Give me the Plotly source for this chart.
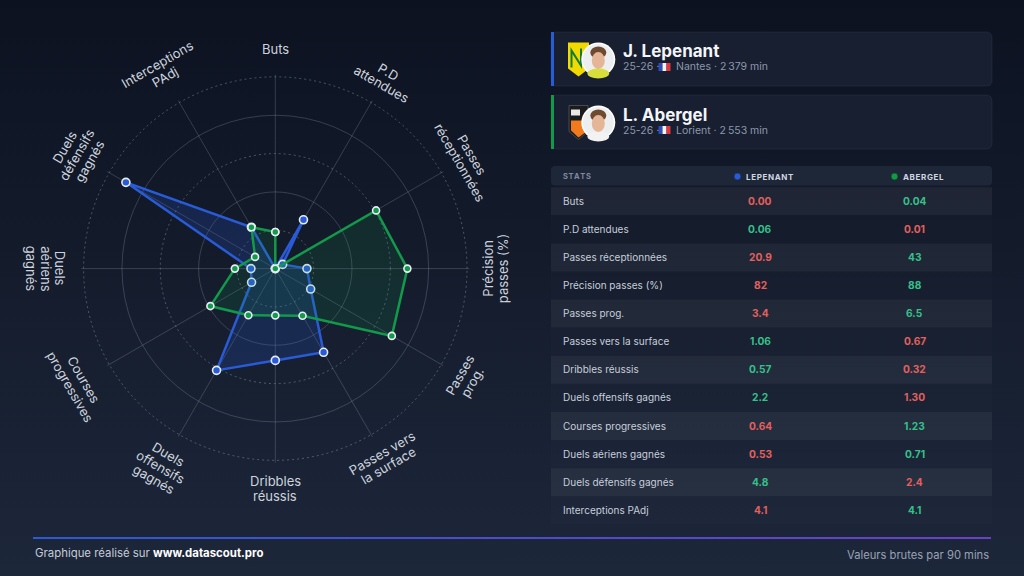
import base64
import math
import plotly.graph_objects as go

# ---------------- data ----------------
metrics = ["Buts", "P.D attendues", "Passes réceptionnées", "Précision passes (%)",
           "Passes prog.", "Passes vers la surface", "Dribbles réussis",
           "Duels offensifs gagnés", "Courses progressives", "Duels aériens gagnés",
           "Duels défensifs gagnés", "Interceptions PAdj"]
axis_labels = [["Buts"], ["P.D", "attendues"], ["Passes", "réceptionnées"],
               ["Précision", "passes (%)"], ["Passes", "prog."], ["Passes vers", "la surface"],
               ["Dribbles", "réussis"], ["Duels", "offensifs", "gagnés"],
               ["Courses", "progressives"], ["Duels", "aériens", "gagnés"],
               ["Duels", "défensifs", "gagnés"], ["Interceptions", "PAdj"]]
# normalised radar values (0-1)
lepenant_radar = [0.0, 0.294, 0.044, 0.165, 0.213, 0.504, 0.479, 0.613, 0.143, 0.127, 0.90, 0.249]
abergel_radar = [0.191, 0.0, 0.607, 0.689, 0.702, 0.284, 0.244, 0.281, 0.391, 0.211, 0.122, 0.249]
# raw values per 90 (table)
lepenant_values = ["0.00", "0.06", "20.9", "82", "3.4", "1.06", "0.57", "2.2", "0.64", "0.53", "4.8", "4.1"]
abergel_values = ["0.04", "0.01", "43", "88", "6.5", "0.67", "0.32", "1.30", "1.23", "0.71", "2.4", "4.1"]
player_names = ["J. Lepenant", "L. Abergel"]
player_short = ["LEPENANT", "ABERGEL"]
player_season = ["25-26", "25-26"]
player_club = ["Nantes", "Lorient"]
player_minutes = ["2\u202f379", "2\u202f553"]
ring_dotted = [0.2, 0.6, 1.0]
ring_solid = [0.4, 0.8]

# ---------------- style ----------------
W, H = 1024, 576
BLUE = "#2a5bd7"
GREEN = "#12994a"
RED_TXT = "#e3605e"
GREEN_TXT = "#36c08a"
FONT = "Inter"
CX, CY, R = 275.3, 268.6, 191.7
RMAX = 1.012          # a little headroom so the outer ring is kept as a grid line
RDOM = R * RMAX


def X(p):
    return p / W


def Y(p):
    return 1 - p / H


def rrect(x0, y0, x1, y1, r):
    return (f"M{X(x0 + r)},{Y(y0)} L{X(x1 - r)},{Y(y0)} Q{X(x1)},{Y(y0)} {X(x1)},{Y(y0 + r)} "
            f"L{X(x1)},{Y(y1 - r)} Q{X(x1)},{Y(y1)} {X(x1 - r)},{Y(y1)} "
            f"L{X(x0 + r)},{Y(y1)} Q{X(x0)},{Y(y1)} {X(x0)},{Y(y1 - r)} "
            f"L{X(x0)},{Y(y0 + r)} Q{X(x0)},{Y(y0)} {X(x0 + r)},{Y(y0)} Z")


def poly(pts):
    return "M" + " L".join(f"{X(a)},{Y(b)}" for a, b in pts) + " Z"


shapes = []
annotations = []


def rect_shape(x0, y0, x1, y1, fill, r=0, line=None):
    if r:
        shapes.append(dict(type="path", xref="paper", yref="paper", path=rrect(x0, y0, x1, y1, r),
                           fillcolor=fill, line=line or dict(width=0), layer="below"))
    else:
        shapes.append(dict(type="rect", xref="paper", yref="paper", x0=X(x0), x1=X(x1), y0=Y(y1), y1=Y(y0),
                           fillcolor=fill, line=line or dict(width=0), layer="below"))


def circle(cx, cy, rx, ry, fill, line=None, layer="above"):
    shapes.append(dict(type="circle", xref="paper", yref="paper", x0=X(cx - rx), x1=X(cx + rx),
                       y0=Y(cy + ry), y1=Y(cy - ry), fillcolor=fill, line=line or dict(width=0), layer=layer))


def text(x, y, s, size, color, xanchor="left", angle=0, bold=False):
    annotations.append(dict(x=X(x), y=Y(y), xref="paper", yref="paper", text=(f"<b>{s}</b>" if bold else s),
                            showarrow=False, xanchor=xanchor, yanchor="middle", textangle=angle,
                            font=dict(family=FONT, size=size, color=color)))


# background gradient + footer gradient line
svg = (f"<svg xmlns='http://www.w3.org/2000/svg' width='{W}' height='{H}' viewBox='0 0 {W} {H}' preserveAspectRatio='none'>"
       "<defs><linearGradient id='g' x1='0' y1='0' x2='0' y2='1'>"
       "<stop offset='0' stop-color='#0c1220'/><stop offset='1' stop-color='#1d273a'/></linearGradient>"
       "<linearGradient id='l' x1='0' y1='0' x2='1' y2='0'>"
       "<stop offset='0' stop-color='#2c5ad2'/><stop offset='1' stop-color='#6c3fc6'/></linearGradient></defs>"
       f"<rect width='{W}' height='{H}' fill='url(#g)'/>"
       "<rect x='33' y='537' width='958' height='2' fill='url(#l)'/></svg>")
bg_src = "data:image/svg+xml;base64," + base64.b64encode(svg.encode()).decode()

# ---------------- radar ----------------
fig = go.Figure()
fig.add_trace(go.Scatterpolar(r=[0], theta=[0], mode="markers", marker=dict(opacity=0),
                              subplot="polar", hoverinfo="skip", showlegend=False))

theta_closed = metrics + [metrics[0]]
for vals, color, fillc, size in [(lepenant_radar, BLUE, "rgba(42,91,215,0.20)", 8),
                                 (abergel_radar, GREEN, "rgba(18,153,74,0.15)", 7)]:
    fig.add_trace(go.Scatterpolar(
        r=vals + [vals[0]], theta=theta_closed, subplot="polar2", mode="lines+markers",
        fill="toself", fillcolor=fillc, line=dict(color=color, width=2.5),
        marker=dict(size=size, color=color, line=dict(color="#e8edf5", width=1.6)),
        hoverinfo="skip", showlegend=False))

dom = dict(x=[(CX - RDOM) / W, (CX + RDOM) / W], y=[1 - (CY + RDOM) / H, 1 - (CY - RDOM) / H])
GRID = "rgba(190,200,220,0.22)"
polar_common = dict(domain=dom, bgcolor="rgba(0,0,0,0)", hole=0)

# axis labels around the radar
LS = 14.5
for i, lines in enumerate(axis_labels):
    th = i * 30
    top = th < 90 or th > 270
    ang = th if top else th - 180
    if ang > 180:
        ang -= 360
    rc = 220 if th <= 180 else 229
    n = len(lines)
    ux, uy = math.sin(math.radians(th)), -math.cos(math.radians(th))
    for k, ln in enumerate(lines):
        off = (k - (n - 1) / 2) * LS
        rr = rc - off if top else rc + off
        text(CX + rr * ux, CY + rr * uy, ln, 13, "#cdd3de", xanchor="center", angle=ang)

# ---------------- player cards ----------------
card_y = [(32, 86), (95, 149)]
accent = [BLUE, GREEN]
shirt = ["#d8df3a", "#f2f2f2"]
for j in range(2):
    y0, y1 = card_y[j]
    rect_shape(551, y0, 992, y1, "#171f30", r=6, line=dict(color="rgba(255,255,255,0.06)", width=1))
    rect_shape(551, y0, 554, y1, accent[j])
    cy = (y0 + y1) / 2 + 0.5
    # club crest
    if j == 0:
        shapes.append(dict(type="path", xref="paper", yref="paper",
                           path=poly([(568, cy - 17), (589, cy - 17), (589, cy + 9), (578.5, cy + 17), (568, cy + 9)]),
                           fillcolor="#f2da00", line=dict(width=0)))
        shapes.append(dict(type="path", xref="paper", yref="paper",
                           path=f"M{X(571.5)},{Y(cy + 8)} L{X(571.5)},{Y(cy - 9)} L{X(581)},{Y(cy + 6)} L{X(581)},{Y(cy - 11)}",
                           line=dict(color="#0f7a3c", width=2)))
    else:
        shapes.append(dict(type="path", xref="paper", yref="paper",
                           path=poly([(569, cy - 17), (588, cy - 17), (588, cy + 9), (578.5, cy + 17), (569, cy + 9)]),
                           fillcolor="#1b1b1b", line=dict(color="#555", width=0.8)))
        shapes.append(dict(type="path", xref="paper", yref="paper",
                           path=poly([(571, cy - 2), (588, cy - 2), (588, cy + 8), (578.5, cy + 15), (571, cy + 8)]),
                           fillcolor="#f07a1c", line=dict(width=0)))
        shapes.append(dict(type="rect", xref="paper", yref="paper", x0=X(571), x1=X(580), y0=Y(cy - 7), y1=Y(cy - 13),
                           fillcolor="#e8e8e8", line=dict(width=0)))
    # photo
    px = 598.3
    circle(px, cy, 17, 17, "#ffffff")
    circle(px, cy, 15.5, 15.5, "#eceef0")
    circle(px, cy + 14, 11, 5, shirt[j])
    circle(px, cy - 7, 8, 6, "#6e4a30")
    circle(px, cy + 1, 6.5, 8.5, "#e4b597")
    # texts
    text(621, y0 + 19.5, player_names[j], 17, "#f3f5f9", bold=True)
    text(621, y0 + 35, f"{player_season[j]} ·", 10.5, "#8e98ab")
    fx, fy = 658.5, y0 + 35
    for c_i, fc in enumerate(["#2a4db8", "#f3f3f3", "#e0383e"]):
        shapes.append(dict(type="rect", xref="paper", yref="paper", x0=X(fx + 4 * c_i), x1=X(fx + 4 * (c_i + 1)),
                           y0=Y(fy + 4), y1=Y(fy - 4), fillcolor=fc, line=dict(width=0)))
    text(674, y0 + 35, f"{player_club[j]} · {player_minutes[j]} min", 10.5, "#8e98ab")

# ---------------- stats table ----------------
def spaced(s):
    return "\u200a".join(s)


rect_shape(551, 166, 992, 185.5, "#1e2738", r=4)
text(561, 176, spaced("STATS"), 7.5, "#8089a0", bold=True)
circle(737.5, 176.5, 3.4, 3.4, BLUE, line=dict(color="#1a2a55", width=0.6))
text(744, 176.5, spaced(player_short[0]), 8, "#d0d6e1", bold=True)
circle(894.5, 176.5, 3.4, 3.4, GREEN, line=dict(color="#0d3b20", width=0.6))
text(901, 176.5, spaced(player_short[1]), 8, "#d0d6e1", bold=True)

ROW0, ROWH = 200.7, 28.1
for i, name in enumerate(metrics):
    yc = ROW0 + ROWH * i
    if i % 2 == 0:
        rect_shape(551, yc - 13.5, 992, yc + 14.5, "rgba(255,255,255,0.055)")
    else:
        rect_shape(551, yc - 13.5, 992, yc + 14.5, "rgba(255,255,255,0.012)")
    text(561, yc, name, 10, "#c7cedb")
    a, b = float(lepenant_values[i]), float(abergel_values[i])
    text(760, yc, lepenant_values[i], 10.2, GREEN_TXT if a > b else RED_TXT, xanchor="center", bold=True)
    text(914.5, yc, abergel_values[i], 10.2, GREEN_TXT if b >= a else RED_TXT, xanchor="center", bold=True)

# ---------------- footer ----------------
text(33, 553, "Graphique réalisé sur <b><span style='color:#ffffff'>www.datascout.pro</span></b>", 11.4, "#c4cbd8")
text(991, 555, "Valeurs brutes par 90 mins", 11.2, "#99a2b4", xanchor="right")

fig.update_layout(
    width=W, height=H, margin=dict(l=0, r=0, t=0, b=0),
    paper_bgcolor="#141b2b", plot_bgcolor="rgba(0,0,0,0)",
    font=dict(family=FONT),
    images=[dict(source=bg_src, xref="paper", yref="paper", x=0, y=1, sizex=1, sizey=1,
                 sizing="stretch", layer="below", xanchor="left", yanchor="top")],
    polar=dict(**polar_common,
               radialaxis=dict(range=[0, RMAX], tickvals=ring_dotted, showticklabels=False, ticks="",
                               showline=False, gridcolor="rgba(190,200,220,0.34)", gridwidth=1.1, griddash="2px,3px"),
               angularaxis=dict(showgrid=False, showticklabels=False, ticks="", showline=False)),
    polar2=dict(**polar_common,
                radialaxis=dict(range=[0, RMAX], tickvals=ring_solid, showticklabels=False, ticks="",
                                showline=False, gridcolor=GRID, gridwidth=1.2),
                angularaxis=dict(type="category", categoryarray=metrics, categoryorder="array",
                                 rotation=90, direction="clockwise", showticklabels=False, ticks="",
                                 showline=False, gridcolor=GRID, gridwidth=1)),
    shapes=shapes, annotations=annotations, showlegend=False,
)

fig.write_html("out.html", config={"displayModeBar": False},
               post_script="document.body.style.margin='0px';")
